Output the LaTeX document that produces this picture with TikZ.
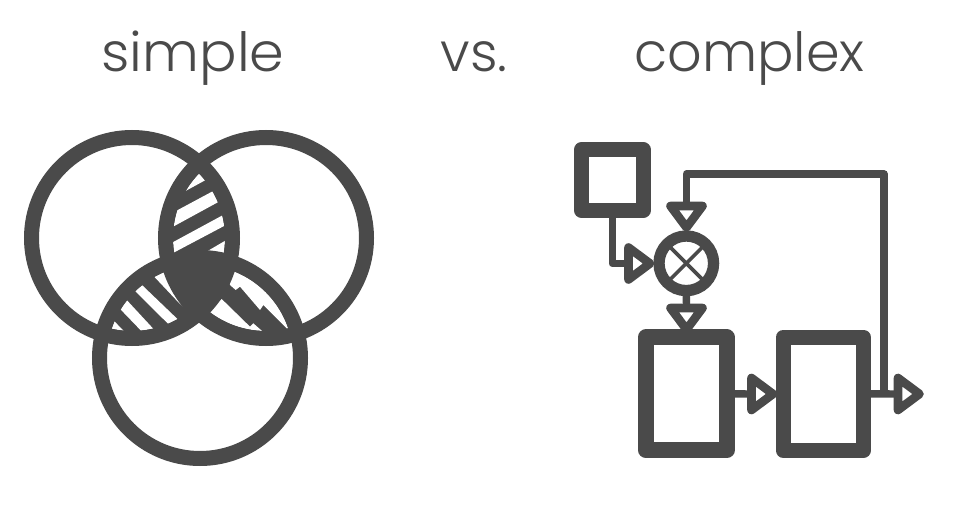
\documentclass[tikz,border=0pt]{standalone}
\usepackage{fontspec}
\newfontfamily\titlefont{Poppins Light}
\usetikzlibrary{shapes.geometric,calc}
\definecolor{ink}{HTML}{4A4A4A}
\newcommand{\px}[1]{#1*0.75pt}
\tikzset{
  title/.style={anchor=base,text=ink,inner sep=0pt,font=\titlefont\fontsize{40.5pt}{48pt}\selectfont},
  ring/.style={draw=ink,line width=\px{15}},
  hole/.style={fill=white},
  blockbox/.style={draw=ink,fill=white,line join=round,inner sep=0pt,outer sep=0pt},
  mixer/.style={circle,draw=ink,fill=white,line width=\px{11.3},inner sep=0pt,outer sep=0pt,minimum size={\px{54.6}}},
  tip/.style={isosceles triangle,isosceles triangle apex angle=76,isosceles triangle stretches,draw=ink,fill=white,line width=\px{8.6},line join=round,inner sep=0pt,outer sep=0pt,minimum width={\px{32}},minimum height={\px{21.5}},anchor=apex},
  wire/.style={draw=ink,line width=\px{7.4},line join=round},
}
\begin{document}
\begin{tikzpicture}[x=0.75pt,y=-0.75pt]
\useasboundingbox[fill=white] (0,0) rectangle (967,516);
\node[title] (t1) at (193,71.5) {\scalebox{1.03}[1]{simple}};
\node[title] (t2) at (474,71.5) {vs.};
\node[title] (t3) at (749.5,71.5) {complex};

% --- Venn diagram
\def\La{(132,238) circle[radius=100.5]}
\def\Ra{(266,238) circle[radius=100.5]}
\def\Ba{(200,358) circle[radius=100.5]}
\def\Li{(132,238) circle[radius=93]}
\def\Ri{(266,238) circle[radius=93]}
\def\Bi{(200,358) circle[radius=93]}
\begin{scope}\clip \La; \fill[ink] \Ra; \end{scope}
\begin{scope}\clip \La; \fill[ink] \Ba; \end{scope}
\begin{scope}\clip \Ra; \fill[ink] \Ba; \end{scope}
% top lens stripes
\begin{scope}
\clip \Li; \clip \Ri;
\begin{scope}[shift={(90,150)},x=0.25pt,y=-0.25pt]
\fill[hole] (283,125)--(347,90)--(360,50)--(320,30)--(270,90)--cycle;
\fill[hole] (200,214)--(420,96)--(440,126)--(200,257)--cycle;
\fill[hole] (200,303)--(440,173)--(440,208)--(200,335)--cycle;
\fill[hole] (300,334)--(440,252)--(440,340)--(300,340)--cycle;
\end{scope}
\end{scope}
% lower-left lens stripes
\begin{scope}
\clip \Li; \clip \Bi;
\begin{scope}[shift={(95,260)},x=0.25pt,y=-0.25pt]
\fill[hole] (40,165)--(95,222)--(60,260)--(0,210)--cycle;
\fill[hole] (35,105)--(60,82)--(195,228)--(165,240)--cycle;
\fill[hole] (100,73)--(120,55)--(265,194)--(240,212)--cycle;
\fill[hole] (155,26)--(200,5)--(280,40)--(290,160)--(253,130)--cycle;
\end{scope}
\end{scope}
% lower-right lens stripes
\begin{scope}
\clip \Ri; \clip \Bi;
\begin{scope}[shift={(205,260)},x=0.25pt,y=-0.25pt]
\fill[hole] (60,20)--(75,75)--(92,90)--(105,80)--(165,150)--(175,135)--(265,225)--(320,100)--(200,0)--cycle;
\fill[hole] (50,117)--(-10,170)--(60,260)--(185,225)--(145,190)--(135,200)--cycle;
\end{scope}
\end{scope}
% centre
\begin{scope}\clip \La; \clip \Ra; \fill[ink] \Ba; \end{scope}
\draw[ring] \La;
\draw[ring] \Ra;
\draw[ring] \Ba;

% --- block diagram
\node[blockbox,line width=\px{15},minimum width={\px{61.5}},minimum height={\px{61}}] (src) at (612.3,180) {};
\node[blockbox,line width=\px{16},minimum width={\px{80.5}},minimum height={\px{113}}] (boxa) at (686.3,393.8) {};
\node[blockbox,line width=\px{15.5},minimum width={\px{80}},minimum height={\px{113}}] (boxb) at (823.3,393.8) {};
\node[mixer] (mix) at (686.3,263.3) {};
\draw[ink,line width=\px{3.6}] (mix.45) -- (mix.225) (mix.135) -- (mix.315);
\coordinate (branch) at (884,394);
\coordinate (bend) at (884,174);

\node[tip,shape border rotate=270] (tipfb) at (686.5,227.5) {};
\node[tip,shape border rotate=0] (tipsrc) at (650,263.5) {};
\node[tip,shape border rotate=270] (tipmix) at (686.5,329.5) {};
\node[tip,shape border rotate=0] (tipab) at (773,394) {};
\node[tip,shape border rotate=0] (tipout) at (919.5,394) {};

\draw[wire] (src.south) |- (tipsrc.lower side);
\draw[wire] (mix.south) -- (tipmix.lower side);
\draw[wire] (boxa.east) -- (tipab.lower side);
\draw[wire] (boxb.east) -- (tipout.lower side);
\draw[wire] (branch) -- (bend) -| (tipfb.lower side);
\end{tikzpicture}
\end{document}
